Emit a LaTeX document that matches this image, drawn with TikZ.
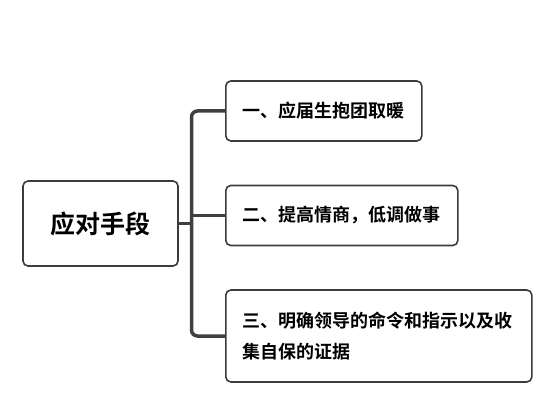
\documentclass[tikz,border=0pt]{standalone}
\usepackage{fontspec}
\usepackage{tikz}
\usetikzlibrary{positioning}
\newfontfamily\cjk{Noto Sans CJK SC}[BoldFont={Noto Sans CJK SC Bold}]
\definecolor{BoxLine}{HTML}{3C3C3C}
\definecolor{TreeLine}{HTML}{404040}

\begin{document}
\begin{tikzpicture}[
  x=1pt,y=-1pt,
  topic/.style={draw=BoxLine,line width=1.6pt,rounded corners=5pt,fill=white,
    minimum width=155pt,minimum height=85pt,font=\cjk\bfseries\fontsize{25}{30}\selectfont},
  sub/.style={draw=BoxLine,line width=1.6pt,rounded corners=5pt,fill=white,
    inner xsep=17pt,minimum height=60pt,anchor=west,align=left,
    font=\cjk\bfseries\fontsize{18}{31}\selectfont},
  conn/.style={draw=TreeLine,line width=3.5pt,rounded corners=6pt}
]
  \useasboundingbox (0,0) rectangle (554,414);
  \node[topic] (root) at (100.5,223.5) {应对手段};
  \node[sub] (one) at (225,111) {一、应届生抱团取暖};
  \node[sub] (two) at (225,215.5) {二、提高情商，低调做事};
  \node[sub,text width=272pt,minimum height=92pt] (three) at (225,336)
    {三、明确领导的命令和指示以及收\\集自保的证据};
  \coordinate (fork) at (191.5,223.5);
  % trunk with rounded ends, then the straight joints
  \draw[conn] (one.west) -| (fork) |- (three.west);
  \draw[conn] (root.east) -- (root.east -| fork);
  \draw[conn] (two.west -| fork) -- (two.west);
\end{tikzpicture}
\end{document}
